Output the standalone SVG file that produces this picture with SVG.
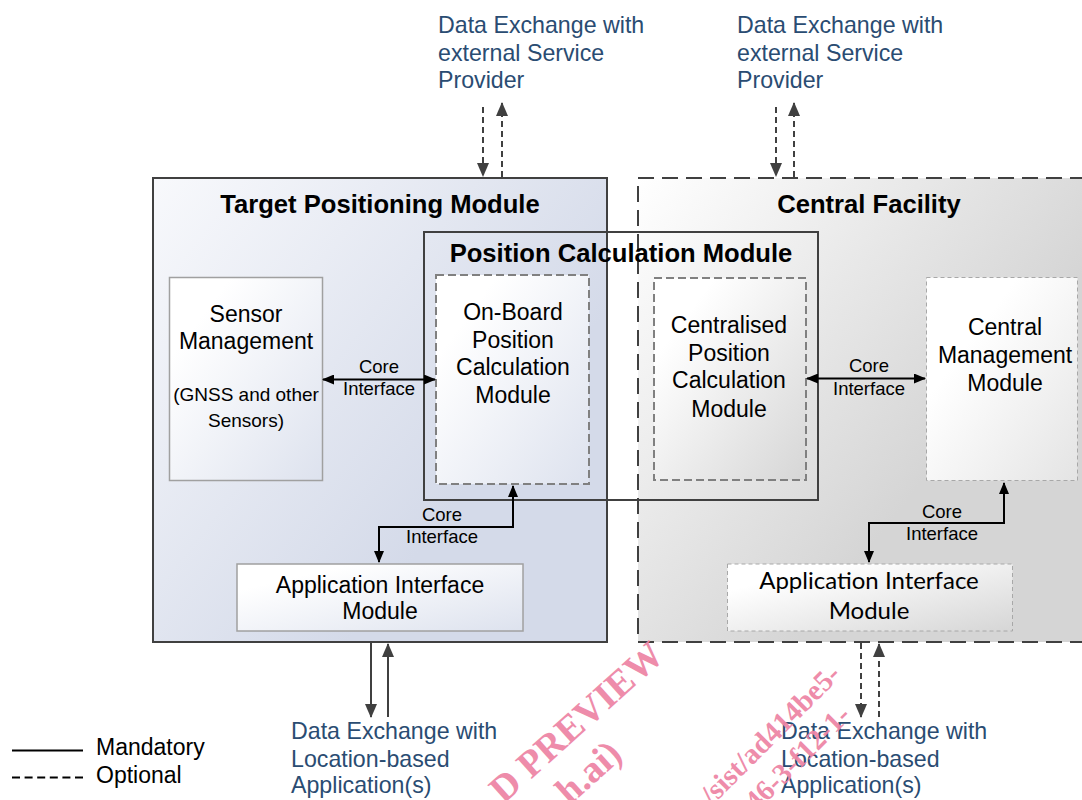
<svg xmlns="http://www.w3.org/2000/svg" width="1082" height="800" viewBox="0 0 1082 800">
<defs>
<style>
.t{font-family:"Liberation Sans",Arial,sans-serif;fill:#000;text-anchor:middle}
.title{font-size:25.6px;font-weight:bold}
.box{font-size:23px}
.small{font-size:19px}
.core{font-size:18.5px}
.cal{font-family:Lato,"Open Sans",sans-serif;font-size:24px;fill:#000;text-anchor:middle}
.blue{font-family:"Liberation Sans",Arial,sans-serif;font-size:23.2px;fill:#2a4c72}
.leg{font-family:"Liberation Sans",Arial,sans-serif;font-size:23px;fill:#000}
.wm{font-family:"Liberation Serif","Times New Roman",serif;fill:#ee86a6;font-weight:bold}
.cl{fill:none;stroke:#000;stroke-width:2}
.gl{fill:none;stroke:#404040;stroke-width:2}
.gd{fill:none;stroke:#404040;stroke-width:2;stroke-dasharray:6 4}
</style>
<linearGradient id="gT" x1="0" y1="0" x2="0.75" y2="0.6">
<stop offset="0" stop-color="#f8f9fc"/><stop offset="1" stop-color="#d4dae9"/>
</linearGradient>
<linearGradient id="gC" x1="0" y1="0" x2="0.7" y2="0.55">
<stop offset="0" stop-color="#ffffff"/><stop offset="1" stop-color="#d5d5d5"/>
</linearGradient>
<linearGradient id="gB" x1="0.2" y1="0.2" x2="1" y2="1">
<stop offset="0" stop-color="#ffffff"/><stop offset="1" stop-color="#dde2ee"/>
</linearGradient>
<linearGradient id="gG" x1="0.2" y1="0.2" x2="1" y2="1">
<stop offset="0" stop-color="#ffffff"/><stop offset="1" stop-color="#d6d6d6"/>
</linearGradient>
<linearGradient id="gG2" x1="0.3" y1="0.3" x2="1" y2="1">
<stop offset="0" stop-color="#ffffff"/><stop offset="1" stop-color="#e4e4e4"/>
</linearGradient>
<marker id="ab" viewBox="0 0 12 10" refX="11" refY="5" markerWidth="12" markerHeight="10" markerUnits="userSpaceOnUse" orient="auto-start-reverse">
<path d="M0,0 L12,5 L0,10 Z" fill="#000"/>
</marker>
<marker id="ag" viewBox="0 0 14 12" refX="13" refY="6" markerWidth="14" markerHeight="12" markerUnits="userSpaceOnUse" orient="auto-start-reverse">
<path d="M0,0 L14,6 L0,12 Z" fill="#404040"/>
</marker>
</defs>

<rect width="1082" height="800" fill="#ffffff"/>

<g id="target-positioning-module">
<rect x="153" y="178" width="454" height="464" fill="url(#gT)" stroke="#404040" stroke-width="2"/>
<text class="t title" x="380" y="213">Target Positioning Module</text>
</g>

<g id="central-facility">
<rect x="638" y="178" width="460" height="464" fill="url(#gC)" stroke="#404040" stroke-width="2" stroke-dasharray="16 8"/>
<text class="t title" x="869" y="213">Central Facility</text>
</g>

<g id="position-calculation-module">
<rect x="424" y="232" width="394" height="268" fill="none" stroke="#404040" stroke-width="2"/>
<text class="t title" x="621" y="262">Position Calculation Module</text>
</g>

<g id="sensor-management">
<rect x="169.5" y="277.5" width="153" height="203" fill="url(#gB)" stroke="#a0a0a0" stroke-width="1.5"/>
<text class="t box" x="246" y="322">Sensor</text>
<text class="t box" x="246" y="349">Management</text>
<text class="t small" x="246" y="401">(GNSS and other</text>
<text class="t small" x="246" y="427">Sensors)</text>
</g>

<g id="onboard-position-calculation">
<rect x="436" y="275" width="153" height="209" fill="url(#gB)" stroke="#808080" stroke-width="2" stroke-dasharray="8 4"/>
<text class="t box" x="513" y="320">On-Board</text>
<text class="t box" x="513" y="348">Position</text>
<text class="t box" x="513" y="375">Calculation</text>
<text class="t box" x="513" y="403">Module</text>
</g>

<g id="centralised-position-calculation">
<rect x="654" y="278" width="152" height="202" fill="url(#gG)" stroke="#808080" stroke-width="2" stroke-dasharray="8 4"/>
<text class="t box" x="729" y="333">Centralised</text>
<text class="t box" x="729" y="361">Position</text>
<text class="t box" x="729" y="388">Calculation</text>
<text class="t box" x="729" y="417">Module</text>
</g>

<g id="central-management-module">
<rect x="926.5" y="277.5" width="151" height="203" fill="url(#gG2)" stroke="#a8a8a8" stroke-width="1" stroke-dasharray="4 3"/>
<text class="t box" x="1005" y="335">Central</text>
<text class="t box" x="1005" y="363">Management</text>
<text class="t box" x="1005" y="391">Module</text>
</g>

<g id="application-interface-left">
<rect x="237" y="564" width="286" height="67" fill="url(#gB)" stroke="#a0a0a0" stroke-width="1.5"/>
<text class="t box" x="380" y="593">Application Interface</text>
<text class="t box" x="380" y="619">Module</text>
</g>

<g id="application-interface-right">
<rect x="727.5" y="564" width="285" height="67" fill="url(#gG)" stroke="#a8a8a8" stroke-width="1" stroke-dasharray="4 3"/>
<text class="cal" x="869" y="589">Application Interface</text>
<text class="cal" x="869" y="619">Module</text>
</g>

<g id="connectors">
<path class="cl" d="M323,379.5 H435" marker-start="url(#ab)" marker-end="url(#ab)"/>
<path class="cl" d="M807,378.5 H925" marker-start="url(#ab)" marker-end="url(#ab)"/>
<path class="cl" d="M513,486 V527 H379 V562" marker-start="url(#ab)" marker-end="url(#ab)"/>
<path class="cl" d="M1004,483 V523 H869 V562" marker-start="url(#ab)" marker-end="url(#ab)"/>
<path class="gd" d="M483,107 V176" marker-end="url(#ag)"/>
<path class="gd" d="M502,177 V103" marker-end="url(#ag)"/>
<path class="gd" d="M776,107 V176" marker-end="url(#ag)"/>
<path class="gd" d="M794,177 V103" marker-end="url(#ag)"/>
<path class="gl" d="M371,643 V717" marker-end="url(#ag)"/>
<path class="gl" d="M388,717 V644" marker-end="url(#ag)"/>
<path class="gd" d="M861,643 V717" marker-end="url(#ag)"/>
<path class="gd" d="M879,717 V644" marker-end="url(#ag)"/>
</g>

<g id="connector-labels">
<text class="t core" x="379" y="373">Core</text>
<text class="t core" x="379" y="395">Interface</text>
<text class="t core" x="869" y="372">Core</text>
<text class="t core" x="869" y="395">Interface</text>
<text class="t core" x="442" y="521">Core</text>
<text class="t core" x="442" y="543">Interface</text>
<text class="t core" x="942" y="518">Core</text>
<text class="t core" x="942" y="540">Interface</text>
</g>

<g id="external-labels">
<text class="blue" x="438" y="33">Data Exchange with</text>
<text class="blue" x="438" y="60.5">external Service</text>
<text class="blue" x="438" y="88">Provider</text>
<text class="blue" x="737" y="33">Data Exchange with</text>
<text class="blue" x="737" y="60.5">external Service</text>
<text class="blue" x="737" y="88">Provider</text>
<text class="blue" x="291" y="739">Data Exchange with</text>
<text class="blue" x="291" y="766.5">Location-based</text>
<text class="blue" x="291" y="793">Application(s)</text>
<text class="blue" x="781" y="739">Data Exchange with</text>
<text class="blue" x="781" y="766.5">Location-based</text>
<text class="blue" x="781" y="793">Application(s)</text>
</g>

<g id="legend">
<line x1="12" y1="750.5" x2="83" y2="750.5" stroke="#000" stroke-width="2"/>
<line x1="12" y1="777.5" x2="83" y2="777.5" stroke="#000" stroke-width="2" stroke-dasharray="8 4.6"/>
<text class="leg" x="96" y="755">Mandatory</text>
<text class="leg" x="96" y="783">Optional</text>
</g>

<g id="watermark" opacity="0.95">
<text class="wm" font-size="38" text-anchor="end" transform="translate(666,658) rotate(-42)">D PREVIEW</text>
<text class="wm" font-size="38" text-anchor="end" transform="translate(624,757) rotate(-42)">h.ai)</text>
<text class="wm" font-size="29" font-weight="normal" text-anchor="end" transform="translate(842,676) rotate(-45)">/sist/ad414be5-</text>
<text class="wm" font-size="29" font-weight="normal" text-anchor="end" transform="translate(852,717) rotate(-45)">46-3-f12-1-</text>
</g>
</svg>
